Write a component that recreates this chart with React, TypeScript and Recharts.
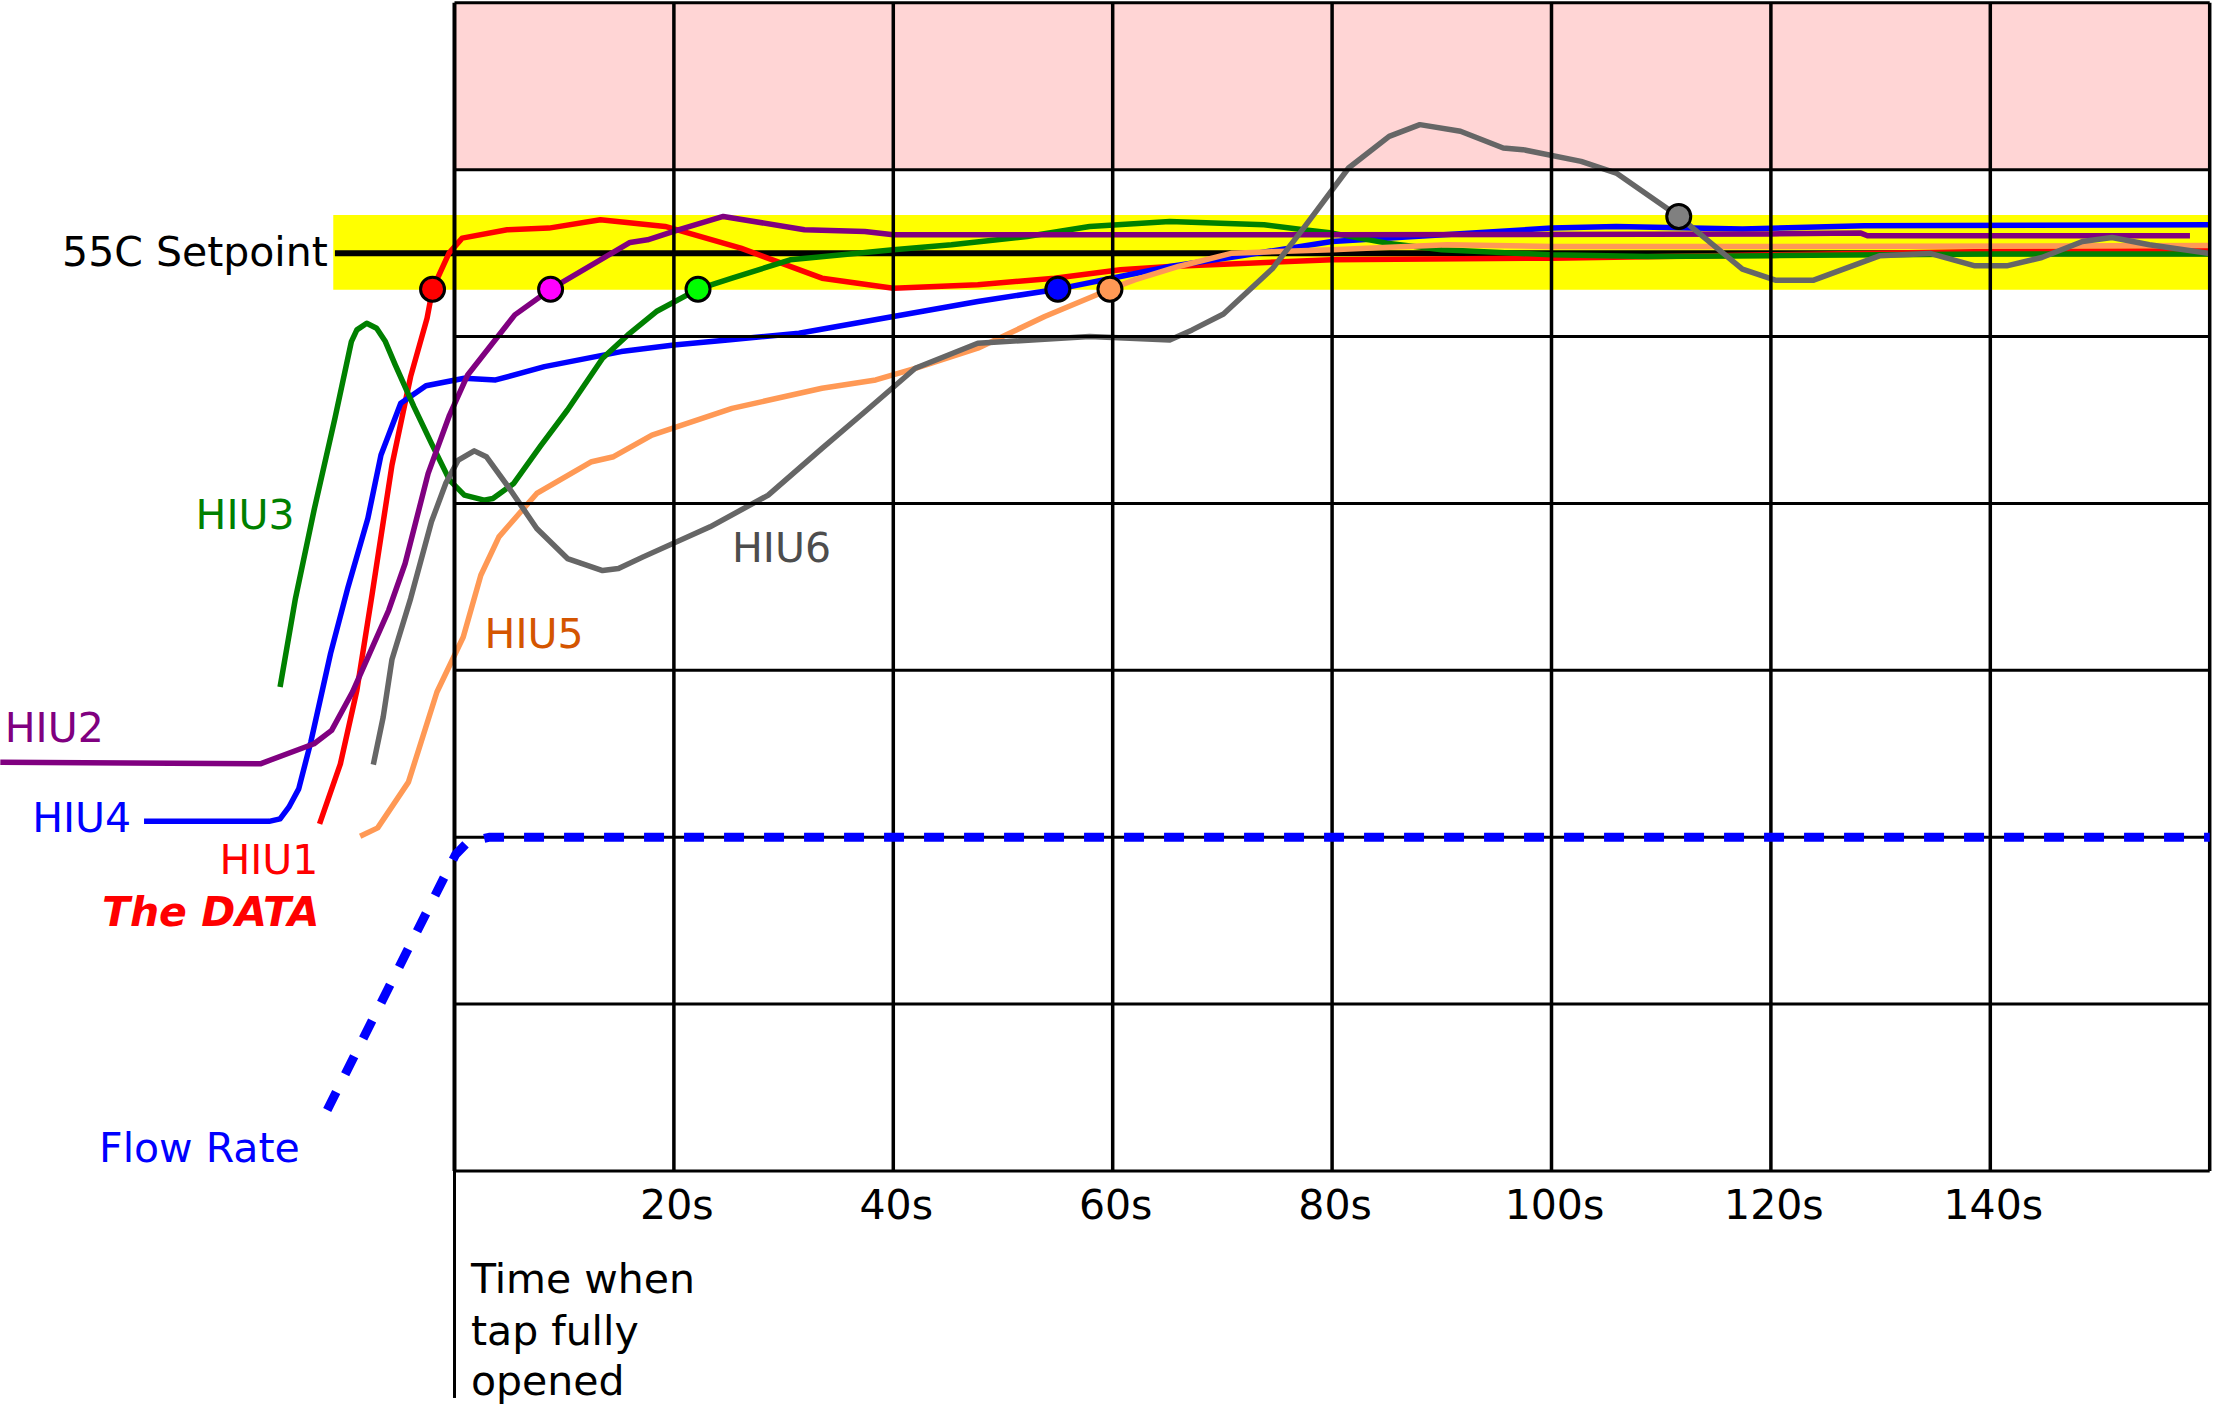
import React from 'react';
import {
  LineChart,
  Line,
  XAxis,
  YAxis,
  ReferenceLine,
  ReferenceArea,
  ReferenceDot,
} from 'recharts';

// ---- data: [time (s), temperature (C)] ----
const HIU1: [number, number][] = [
  [-12.3, 20.8], [-10.4, 24.4], [-8.9, 28.8], [-7.5, 34.6], [-5.7, 42.3], [-4.0, 47.6],
  [-2.5, 51.1], [-2.0, 52.84], [-0.5, 55.0], [0.7, 55.9], [4.8, 56.4], [8.6, 56.5],
  [13.3, 57.0], [19.2, 56.6], [26.1, 55.3], [33.5, 53.5], [40.0, 52.9], [47.7, 53.1],
  [54.7, 53.5], [60.7, 54.0], [65.2, 54.2], [80, 54.6], [100, 54.7], [120, 54.9],
  [140, 55.1], [160, 55.15],
];

const HIU2: [number, number][] = [
  [-41.4, 24.5], [-17.7, 24.4], [-12.8, 25.6], [-11.2, 26.4], [-9.3, 28.7], [-6.0, 33.6],
  [-4.5, 36.4], [-2.4, 41.8], [-0.45, 45.3], [1.2, 47.7], [5.5, 51.3], [8.76, 52.84],
  [16.0, 55.64], [17.6, 55.8], [20.4, 56.4], [24.5, 57.2], [31.9, 56.4], [37.4, 56.3],
  [40.0, 56.1], [80, 56.1], [120, 56.15], [128.2, 56.2], [128.8, 56.04], [158.2, 56.04],
];

const HIU3: [number, number][] = [
  [-15.9, 29.0], [-14.5, 34.3], [-12.8, 39.6], [-10.9, 45.1], [-9.4, 49.7], [-8.9, 50.4],
  [-8.0, 50.8], [-7.1, 50.5], [-6.3, 49.7], [-5.4, 48.3], [-3.7, 45.8], [-2.1, 43.6],
  [-0.45, 41.4], [0.9, 40.5], [2.7, 40.2], [3.5, 40.3], [5.4, 41.2], [7.8, 43.4],
  [10.3, 45.6], [13.5, 48.7], [15.8, 50.1], [18.4, 51.5], [22.2, 52.84], [25.3, 53.5],
  [30.6, 54.6], [40.0, 55.2], [45.3, 55.5], [52.2, 56.0], [57.9, 56.6], [65.2, 56.9],
  [73.8, 56.7], [77.4, 56.4], [80, 56.2], [85, 55.6], [90, 55.2], [100, 54.9],
  [108.8, 54.8], [120, 54.85], [140, 54.95], [160, 54.95],
];

const HIU4: [number, number][] = [
  [-28.3, 20.95], [-16.9, 20.95], [-15.9, 21.1], [-15.1, 21.8], [-14.2, 22.9], [-13.1, 25.7],
  [-11.3, 31.0], [-9.7, 35.0], [-7.9, 39.1], [-6.7, 42.9], [-4.9, 46.0], [-2.6, 47.05],
  [0.9, 47.5], [3.75, 47.4], [8.2, 48.2], [15.2, 49.1], [20.0, 49.5], [24.9, 49.8],
  [31.4, 50.2], [40.0, 51.2], [47.7, 52.1], [55.0, 52.84], [60.7, 53.6], [65.2, 54.2],
  [71.3, 54.8], [80, 55.7], [100, 56.5], [105.9, 56.6], [117.4, 56.44], [128.5, 56.64],
  [160, 56.7],
];

const HIU5: [number, number][] = [
  [-8.6, 20.06], [-7.0, 20.56], [-4.2, 23.3], [-1.6, 28.7], [0.8, 32.0], [2.4, 35.7],
  [4.05, 38.0], [7.5, 40.6], [12.5, 42.5], [14.5, 42.8], [18.0, 44.1], [25.3, 45.7],
  [33.5, 46.9], [38.4, 47.4], [42.0, 48.1], [47.7, 49.3], [53.8, 51.2], [59.75, 52.84],
  [62.0, 53.4], [66.0, 54.2], [70.9, 55.0], [80, 55.2], [90.5, 55.5], [100, 55.4],
  [120, 55.4], [160, 55.45],
];

const HIU6: [number, number][] = [
  [-7.4, 24.35], [-6.5, 27.2], [-5.7, 30.65], [-4.0, 34.3], [-2.1, 38.9], [-0.8, 41.2],
  [0.35, 42.6], [1.8, 43.15], [2.9, 42.8], [4.9, 41.0], [7.5, 38.5], [10.3, 36.7],
  [13.5, 35.98], [14.95, 36.1], [17.2, 36.8], [23.3, 38.6], [28.6, 40.5], [33.5, 43.3],
  [37.6, 45.6], [42.0, 48.1], [47.7, 49.6], [57.9, 50.0], [65.2, 49.8], [67.25, 50.4],
  [70.1, 51.35], [74.6, 54.1], [77.4, 56.5], [81.5, 60.1], [85.2, 62.0], [88.0, 62.7],
  [91.7, 62.3], [95.6, 61.3], [97.4, 61.2], [102.7, 60.5], [105.9, 59.8], [111.6, 57.2],
  [117.4, 54.04], [120.4, 53.38], [123.9, 53.38], [129.9, 54.84], [134.5, 54.98],
  [138.6, 54.24], [141.5, 54.24], [144.7, 54.74], [148.4, 55.7], [151.1, 55.94],
  [154.5, 55.5], [160, 54.98],
];

const FLOW: [number, number][] = [
  [-11.6, 3.66], [0.1, 18.96], [1.2, 19.7], [3.2, 20.0], [160, 20.0],
];

// markers where each HIU reaches the edge of the setpoint band
const MARKERS: { t: number; v: number; fill: string }[] = [
  { t: -2.0, v: 52.84, fill: '#ff0000' },
  { t: 8.76, v: 52.84, fill: '#ff00ff' },
  { t: 22.2, v: 52.84, fill: '#00ff00' },
  { t: 55.0, v: 52.84, fill: '#0000ff' },
  { t: 59.75, v: 52.84, fill: '#ff9955' },
  { t: 111.6, v: 57.2, fill: '#808080' },
];

const X_TICKS = [20, 40, 60, 80, 100, 120, 140];
const GRID_T = [0, 20, 40, 60, 80, 100, 120, 140, 160];
const GRID_V = [0, 10, 20, 30, 40, 50, 60, 70];

const SETPOINT = 55;
const BAND = [52.8, 57.28];
const OVERHEAT = [60, 70];
const X_DOMAIN: [number, number] = [-41.43, 160];
const Y_DOMAIN: [number, number] = [0, 70];

type Lbl = {
  text: string;
  t: number;
  v: number;
  color: string;
  anchor: 'start' | 'end' | 'middle';
  bold?: boolean;
};

const LABELS: Lbl[] = [
  { text: '55C Setpoint', t: -11.55, v: 54.24, color: '#000000', anchor: 'end' },
  { text: 'HIU3', t: -23.6, v: 38.46, color: '#008000', anchor: 'start' },
  { text: 'HIU2', t: -41.0, v: 25.73, color: '#800080', anchor: 'start' },
  { text: 'HIU4', t: -38.5, v: 20.34, color: '#0000ff', anchor: 'start' },
  { text: 'HIU1', t: -12.4, v: 17.8, color: '#ff0000', anchor: 'end' },
  { text: 'The DATA', t: -12.3, v: 14.67, color: '#ff0000', anchor: 'end', bold: true },
  { text: 'Flow Rate', t: -32.4, v: 0.53, color: '#0000ff', anchor: 'start' },
  { text: 'HIU5', t: 2.74, v: 31.35, color: '#d45500', anchor: 'start' },
  { text: 'HIU6', t: 25.3, v: 36.48, color: '#4d4d4d', anchor: 'start' },
  { text: 'Time when', t: 1.5, v: -7.3, color: '#000000', anchor: 'start' },
  { text: 'tap fully', t: 1.5, v: -10.4, color: '#000000', anchor: 'start' },
  { text: 'opened', t: 1.5, v: -13.45, color: '#000000', anchor: 'start' },
];

const SERIES = [
  { name: 'HIU1', data: HIU1, color: '#ff0000' },
  { name: 'HIU4', data: HIU4, color: '#0000ff' },
  { name: 'HIU3', data: HIU3, color: '#008000' },
  { name: 'HIU2', data: HIU2, color: '#800080' },
  { name: 'HIU5', data: HIU5, color: '#ff9955' },
  { name: 'HIU6', data: HIU6, color: '#666666' },
];

const toPts = (a: [number, number][]) => a.map(([t, v]) => ({ t, v }));

const FONT = 'DejaVu Sans, Verdana, sans-serif';

const Tick = (props: any) => {
  const { x, y, payload } = props;
  return (
    <text x={x + 3} y={y + 48} textAnchor="middle" fontFamily={FONT} fontSize={41} fill="#000">
      {`${payload.value}s`}
    </text>
  );
};

const makeLabelShape = (l: Lbl) => (p: any) => (
  <text
    x={p.cx}
    y={p.cy}
    textAnchor={l.anchor}
    fontFamily={FONT}
    fontSize={41}
    fontWeight={l.bold ? 'bold' : 'normal'}
    fontStyle={l.bold ? 'italic' : 'normal'}
    fill={l.color}
  >
    {l.text}
  </text>
);

export default function App() {
  return (
    <div style={{ position: 'absolute', left: 0, top: 0, width: 2233, height: 1406, background: '#fff' }}>
      <LineChart
        width={2233}
        height={1406}
        margin={{ top: 2.8, right: 23.3, bottom: 175, left: 0 }}
      >
        <XAxis
          type="number"
          dataKey="t"
          domain={X_DOMAIN}
          ticks={X_TICKS}
          tick={<Tick />}
          axisLine={false}
          tickLine={false}
          tickSize={0}
          tickMargin={0}
          height={60}
          interval={0}
        />
        <YAxis type="number" dataKey="v" domain={Y_DOMAIN} hide />

        <ReferenceArea
          x1={GRID_T[0]}
          x2={GRID_T[GRID_T.length - 1]}
          y1={OVERHEAT[0]}
          y2={OVERHEAT[1]}
          fill="#ffd5d5"
          fillOpacity={1}
          stroke="none"
          ifOverflow="visible"
        />
        <ReferenceArea
          x1={-11.05}
          x2={160}
          y1={BAND[0]}
          y2={BAND[1]}
          fill="#ffff00"
          fillOpacity={1}
          stroke="none"
          ifOverflow="visible"
        />
        <ReferenceLine
          segment={[{ x: -10.9, y: SETPOINT }, { x: 160, y: SETPOINT }]}
          stroke="#000"
          strokeWidth={6}
          ifOverflow="visible"
        />

        {SERIES.map((s) => (
          <Line
            key={s.name}
            data={toPts(s.data)}
            dataKey="v"
            type="linear"
            stroke={s.color}
            strokeWidth={5.5}
            strokeLinejoin="round"
            dot={false}
            activeDot={false}
            isAnimationActive={false}
          />
        ))}

        {GRID_V.map((v) => (
          <ReferenceLine
            key={`h${v}`}
            segment={[{ x: 0, y: v }, { x: 160, y: v }]}
            stroke="#000"
            strokeWidth={3}
            ifOverflow="visible"
          />
        ))}
        {GRID_T.map((t) => (
          <ReferenceLine
            key={`v${t}`}
            segment={[{ x: t, y: 0 }, { x: t, y: 70 }]}
            stroke="#000"
            strokeWidth={t === 0 ? 4 : 3.5}
            ifOverflow="visible"
          />
        ))}
        <ReferenceLine
          segment={[{ x: 0, y: -13.6 }, { x: 0, y: 0 }]}
          stroke="#000"
          strokeWidth={3}
          ifOverflow="visible"
        />

        <Line
          data={toPts(FLOW)}
          dataKey="v"
          type="linear"
          stroke="#0000ff"
          strokeWidth={9}
          strokeDasharray="20 20"
          dot={false}
          activeDot={false}
          isAnimationActive={false}
        />

        {MARKERS.map((m, i) => (
          <ReferenceDot
            key={`m${i}`}
            x={m.t}
            y={m.v}
            r={12}
            fill={m.fill}
            stroke="#000"
            strokeWidth={3}
            ifOverflow="visible"
          />
        ))}

        {LABELS.map((l, i) => (
          <ReferenceDot
            key={`l${i}`}
            x={l.t}
            y={l.v}
            r={1}
            fill="none"
            stroke="none"
            ifOverflow="visible"
            shape={makeLabelShape(l)}
          />
        ))}
      </LineChart>
    </div>
  );
}
